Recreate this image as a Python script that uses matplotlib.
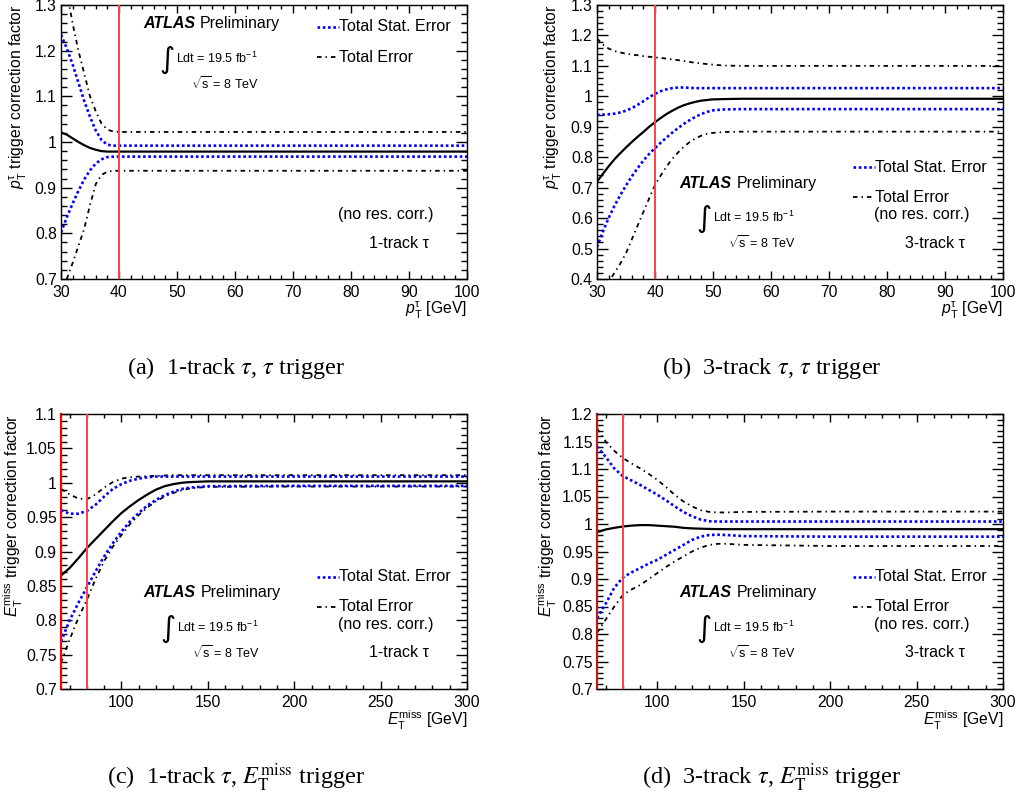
import numpy as np
import matplotlib
matplotlib.use("Agg")
import matplotlib.pyplot as plt
from matplotlib.ticker import MultipleLocator, FormatStrFormatter

plt.rcParams["font.family"] = ["Liberation Sans", "DejaVu Sans"]
plt.rcParams["mathtext.fontset"] = "custom"
plt.rcParams["mathtext.rm"] = "Liberation Sans"
plt.rcParams["mathtext.it"] = "Liberation Sans:italic"
plt.rcParams["mathtext.bf"] = "Liberation Sans:bold"

# (a) 1-track tau, tau trigger
pt_1p = [30, 31, 32, 33, 34, 35, 36, 37, 38, 39, 40, 50, 60, 70, 80, 90, 100]
sf_1p = [1.021, 1.016, 1.008, 1.000, 0.993, 0.987, 0.983, 0.980, 0.979, 0.979, 0.979,
         0.979, 0.979, 0.979, 0.979, 0.979, 0.979]
stat_up_1p = [1.235, 1.205, 1.170, 1.130, 1.090, 1.055, 1.025, 1.004, 0.994, 0.992, 0.992,
              0.992, 0.992, 0.992, 0.992, 0.992, 0.992]
stat_dn_1p = [0.802, 0.835, 0.865, 0.893, 0.918, 0.938, 0.953, 0.962, 0.967, 0.968, 0.968,
              0.968, 0.968, 0.968, 0.968, 0.968, 0.968]
tot_up_1p = [1.40, 1.33, 1.26, 1.20, 1.15, 1.10, 1.067, 1.040, 1.027, 1.023, 1.022,
             1.022, 1.022, 1.022, 1.022, 1.022, 1.022]
tot_dn_1p = [0.64, 0.70, 0.735, 0.772, 0.81, 0.862, 0.908, 0.928, 0.935, 0.937, 0.937,
             0.937, 0.937, 0.937, 0.937, 0.937, 0.937]

# (b) 3-track tau, tau trigger
pt_3p = [30, 31, 32, 33, 34, 35, 36, 37, 38, 39, 40, 41, 42, 43, 44, 45, 46, 47, 48, 49,
         50, 52, 55, 60, 70, 80, 90, 100]
sf_3p = [0.720, 0.745, 0.770, 0.793, 0.813, 0.832, 0.850, 0.867, 0.883, 0.900, 0.915,
         0.929, 0.942, 0.953, 0.963, 0.971, 0.977, 0.982, 0.986, 0.988, 0.990, 0.991,
         0.992, 0.992, 0.992, 0.992, 0.992, 0.992]
stat_up_3p = [0.939, 0.940, 0.941, 0.943, 0.947, 0.953, 0.961, 0.972, 0.984, 0.997, 1.008,
              1.017, 1.023, 1.027, 1.029, 1.029, 1.028, 1.027, 1.027, 1.027, 1.027, 1.027,
              1.027, 1.027, 1.027, 1.027, 1.027, 1.027]
stat_dn_3p = [0.505, 0.555, 0.600, 0.640, 0.675, 0.707, 0.737, 0.764, 0.789, 0.811, 0.830,
              0.848, 0.865, 0.881, 0.896, 0.910, 0.922, 0.933, 0.942, 0.949, 0.954, 0.957,
              0.958, 0.958, 0.958, 0.958, 0.958, 0.958]
tot_up_3p = [1.190, 1.170, 1.157, 1.149, 1.144, 1.140, 1.137, 1.135, 1.132, 1.130, 1.128,
             1.126, 1.124, 1.121, 1.119, 1.116, 1.113, 1.110, 1.108, 1.106, 1.104, 1.101,
             1.100, 1.100, 1.100, 1.100, 1.100, 1.100]
tot_dn_3p = [0.33, 0.36, 0.39, 0.42, 0.45, 0.485, 0.53, 0.575, 0.62, 0.665, 0.709,
             0.74, 0.77, 0.795, 0.816, 0.835, 0.85, 0.862, 0.871, 0.877, 0.880, 0.883,
             0.884, 0.884, 0.884, 0.884, 0.884, 0.884]

# (c) 1-track tau, MET trigger
met_1p = [65, 70, 75, 80, 85, 90, 95, 100, 105, 110, 115, 120, 125, 130, 135, 140, 150,
          200, 250, 300]
msf_1p = [0.865, 0.876, 0.890, 0.905, 0.918, 0.931, 0.944, 0.956, 0.966, 0.975, 0.983,
          0.990, 0.995, 0.998, 1.000, 1.001, 1.002, 1.002, 1.002, 1.002]
mstat_up_1p = [0.960, 0.955, 0.955, 0.959, 0.968, 0.980, 0.991, 0.998, 1.003, 1.006, 1.008,
               1.009, 1.009, 1.009, 1.009, 1.009, 1.009, 1.009, 1.009, 1.009]
mstat_dn_1p = [0.769, 0.800, 0.825, 0.848, 0.871, 0.893, 0.912, 0.929, 0.944, 0.956, 0.967,
               0.975, 0.982, 0.987, 0.991, 0.993, 0.995, 0.9955, 0.9955, 0.9955]
mtot_up_1p = [0.991, 0.983, 0.977, 0.976, 0.983, 0.993, 1.001, 1.006, 1.008, 1.009, 1.0095,
              1.010, 1.0105, 1.011, 1.011, 1.011, 1.011, 1.011, 1.011, 1.011]
mtot_dn_1p = [0.738, 0.772, 0.803, 0.830, 0.860, 0.886, 0.907, 0.924, 0.940, 0.953, 0.964,
              0.973, 0.980, 0.985, 0.989, 0.992, 0.994, 0.9945, 0.9945, 0.9945]

# (d) 3-track tau, MET trigger
met_3p = [65, 70, 75, 80, 85, 90, 95, 100, 105, 110, 115, 120, 125, 130, 135, 140, 150,
          200, 250, 300]
msf_3p = [0.985, 0.990, 0.993, 0.9955, 0.997, 0.998, 0.998, 0.997, 0.996, 0.995, 0.993,
          0.992, 0.9915, 0.991, 0.9907, 0.9906, 0.9906, 0.9906, 0.9906, 0.9906]
mstat_up_3p = [1.141, 1.122, 1.101, 1.087, 1.079, 1.071, 1.062, 1.053, 1.043, 1.032, 1.022,
               1.014, 1.008, 1.005, 1.0045, 1.0045, 1.0045, 1.0045, 1.0045, 1.0045]
mstat_dn_3p = [0.829, 0.855, 0.884, 0.903, 0.912, 0.920, 0.928, 0.935, 0.944, 0.953, 0.962,
               0.971, 0.977, 0.980, 0.9805, 0.980, 0.978, 0.977, 0.977, 0.977]
mtot_up_3p = [1.174, 1.150, 1.133, 1.120, 1.110, 1.101, 1.091, 1.080, 1.067, 1.053, 1.041,
              1.032, 1.025, 1.022, 1.021, 1.021, 1.022, 1.0225, 1.0225, 1.0225]
mtot_dn_3p = [0.802, 0.826, 0.850, 0.871, 0.881, 0.889, 0.900, 0.911, 0.922, 0.932, 0.941,
              0.950, 0.957, 0.962, 0.964, 0.964, 0.962, 0.960, 0.960, 0.960]

thresholds = [40, 40, 80, 80]
captions = [r"(a)  1-track $\tau$, $\tau$ trigger",
            r"(b)  3-track $\tau$, $\tau$ trigger",
            r"(c)  1-track $\tau$, $E_{\mathrm{T}}^{\mathrm{miss}}$ trigger",
            r"(d)  3-track $\tau$, $E_{\mathrm{T}}^{\mathrm{miss}}$ trigger"]
prong_labels = ["1-track τ", "3-track τ", "1-track τ", "3-track τ"]

PT_X = r"$p_{\mathrm{T}}^{\mathrm{\tau}}$ [GeV]"
PT_Y = r"$p_{\mathrm{T}}^{\mathrm{\tau}}$ trigger correction factor"
MET_X = r"$E_{\mathrm{T}}^{\mathrm{miss}}$ [GeV]"
MET_Y = r"$E_{\mathrm{T}}^{\mathrm{miss}}$ trigger correction factor"

FS = 11.3
STAT = dict(color="#0000ff", lw=1.9, ls=(0, (1, 1)))
TOT = dict(color="black", lw=1.3, ls=(0, (2.5, 2.2, 0.8, 2.2)))
NOM = dict(color="black", lw=1.6, ls="-")


def atlas_block(ax, x, y):
    ax.text(x, y, "ATLAS", transform=ax.transAxes, fontsize=11.5,
            fontweight="bold", style="italic", va="center")
    ax.text(x + 0.139, y, "Preliminary", transform=ax.transAxes, fontsize=11.5, va="center")
    ax.text(x + 0.040, y - 0.13, "∫", transform=ax.transAxes, fontsize=21,
            family="DejaVu Sans", va="center")
    ax.text(x + 0.081, y - 0.125, r"Ldt = 19.5 fb$^{-1}$", transform=ax.transAxes,
            fontsize=9, va="center")
    ax.text(x + 0.118, y - 0.218, r"$\sqrt{\mathrm{s}}$ = 8 TeV", transform=ax.transAxes,
            fontsize=9, va="center")


def legend_row(ax, x, y, style, label):
    ax.plot([x, x + 0.054], [y, y], transform=ax.transAxes, clip_on=False, **style)
    ax.text(x + 0.054, y, label, transform=ax.transAxes, fontsize=11.5, va="center")


def draw_panel(ax, x, nom, sup, sdn, tup, tdn, cut, xlim, ylim, xmaj, xmin, ymaj, ymin,
               xlabel, ylabel, ylab_x, top_legend, prong):
    ax.plot(x, tup, **TOT)
    ax.plot(x, tdn, **TOT)
    ax.plot(x, sup, **STAT)
    ax.plot(x, sdn, **STAT)
    ax.plot(x, nom, **NOM)
    ax.axvline(cut, color="#ff4040", lw=1.4, zorder=3)
    ax.set_xlim(*xlim)
    ax.set_ylim(*ylim)

    ax.xaxis.set_major_locator(MultipleLocator(xmaj))
    ax.xaxis.set_minor_locator(MultipleLocator(xmin))
    ax.yaxis.set_major_locator(MultipleLocator(ymaj))
    ax.yaxis.set_minor_locator(MultipleLocator(ymin))
    ax.xaxis.set_major_formatter(FormatStrFormatter("%g"))
    ax.yaxis.set_major_formatter(FormatStrFormatter("%g"))
    ax.tick_params(which="both", direction="in", top=True, right=True,
                   labelsize=FS, width=1.0)
    ax.tick_params(axis="x", which="major", length=6, pad=4)
    ax.tick_params(axis="x", which="minor", length=3)
    ax.tick_params(axis="y", which="major", length=8, pad=3)
    ax.tick_params(axis="y", which="minor", length=4.5)
    for sp in ax.spines.values():
        sp.set_linewidth(1.0)

    xl = ax.set_xlabel(xlabel, fontsize=FS, loc="right")
    xl.set_va("center")
    ax.xaxis.set_label_coords(1.0, -0.115)
    yl = ax.set_ylabel(ylabel, fontsize=FS, loc="top")
    yl.set_va("center")
    ax.yaxis.set_label_coords(ylab_x, 1.0)

    if top_legend:
        atlas_block(ax, 0.202, 0.931)
        legend_row(ax, 0.63, 0.92, STAT, "Total Stat. Error")
        legend_row(ax, 0.63, 0.81, TOT, "Total Error")
    else:
        atlas_block(ax, 0.204, 0.35)
        legend_row(ax, 0.63, 0.408, STAT, "Total Stat. Error")
        legend_row(ax, 0.63, 0.299, TOT, "Total Error")
    ax.text(0.682, 0.234, "(no res. corr.)", transform=ax.transAxes, fontsize=11.5, va="center")
    ax.text(0.759, 0.131, prong, transform=ax.transAxes, fontsize=11.5, va="center")


fig = plt.figure(figsize=(10.21, 7.98), dpi=100)
W, H = 1021.0, 798.0
axw, axh = 406 / W, 274 / H
ax_a = fig.add_axes([61 / W, 1 - 279 / H, axw, axh])
ax_b = fig.add_axes([597 / W, 1 - 279 / H, axw, axh])
ax_c = fig.add_axes([61 / W, 1 - 689 / H, axw, 275 / H])
ax_d = fig.add_axes([597 / W, 1 - 689 / H, axw, 275 / H])

draw_panel(ax_a, pt_1p, sf_1p, stat_up_1p, stat_dn_1p, tot_up_1p, tot_dn_1p, thresholds[0],
           (30, 100), (0.7, 1.3), 10, 2, 0.1, 0.02, PT_X, PT_Y, -0.106, True, prong_labels[0])
draw_panel(ax_b, pt_3p, sf_3p, stat_up_3p, stat_dn_3p, tot_up_3p, tot_dn_3p, thresholds[1],
           (30, 100), (0.4, 1.3), 10, 2, 0.1, 0.02, PT_X, PT_Y, -0.108, False, prong_labels[1])
draw_panel(ax_c, met_1p, msf_1p, mstat_up_1p, mstat_dn_1p, mtot_up_1p, mtot_dn_1p,
           thresholds[2], (65, 300), (0.7, 1.1), 50, 10, 0.05, 0.01, MET_X, MET_Y, -0.118,
           False, prong_labels[2])
draw_panel(ax_d, met_3p, msf_3p, mstat_up_3p, mstat_dn_3p, mtot_up_3p, mtot_dn_3p,
           thresholds[3], (65, 300), (0.7, 1.2), 50, 10, 0.05, 0.01, MET_X, MET_Y, -0.123,
           False, prong_labels[3])

# the left edge of the MET panels carries the lower plateau line
ax_c.spines["left"].set_color("red")
ax_d.spines["left"].set_color("#b02020")
ax_c.spines["left"].set_linewidth(1.6)
ax_d.spines["left"].set_linewidth(1.6)

cap_pos = [(236, 368), (772, 368), (236, 778), (772, 778)]
for (cx, cy), cap in zip(cap_pos, captions):
    fig.text(cx / W, 1 - cy / H, cap, family="Liberation Serif", math_fontfamily="stix",
             fontsize=17.5, ha="center", va="center")

fig.savefig("out.png", dpi=100)
